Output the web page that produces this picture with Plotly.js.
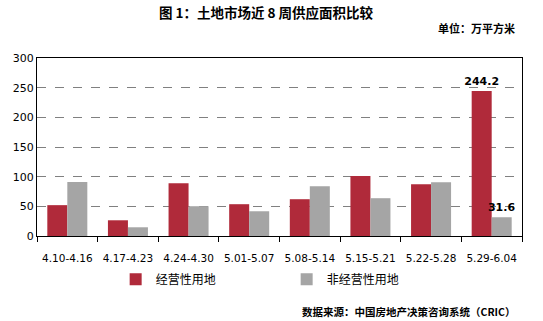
<!DOCTYPE html>
<html><head><meta charset="utf-8">
<script src="https://cdn.plot.ly/plotly-3.0.1.min.js"></script>
<style>html,body{margin:0;padding:0;background:#fff}#c{width:543px;height:321px}</style>
</head><body><div id="c"></div>
<script>
const categories = ["4.10-4.16","4.17-4.23","4.24-4.30","5.01-5.07","5.08-5.14","5.15-5.21","5.22-5.28","5.29-6.04"];
const commercial = [52, 26.5, 89, 53.6, 62, 101, 87.4, 244.2];
const nonCommercial = [91, 14.7, 50.2, 41.7, 84, 63.7, 90.8, 31.6];
const seriesNames = ["经营性用地", "非经营性用地"];
const yTicks = [0, 50, 100, 150, 200, 250, 300];
const labelLast = arr => arr.map((v, i) => i === arr.length - 1 ? v.toFixed(1) : "");

const cjk = '"Noto Sans CJK SC", "Noto Sans", sans-serif';
const num = '"DejaVu Sans", "Noto Sans", sans-serif';

const traces = [
  {type:'bar', x:categories, y:commercial, name:seriesNames[0], marker:{color:'#B02A3A'},
   text:labelLast(commercial), textposition:'outside', cliponaxis:false, constraintext:'none',
   textfont:{family:num, size:11, color:'#000', weight:'bold'}},
  {type:'bar', x:categories, y:nonCommercial, name:seriesNames[1], marker:{color:'#A5A5A5'},
   text:labelLast(nonCommercial), textposition:'outside', cliponaxis:false, constraintext:'none',
   textfont:{family:num, size:11, color:'#000', weight:'bold'}}
];

const layout = {
  width:543, height:321,
  margin:{l:37, r:21, t:58, b:85, autoexpand:false},
  paper_bgcolor:'#fff', plot_bgcolor:'#fff',
  barmode:'group', bargap:0.34, bargroupgap:0,
  showlegend:true,
  legend:{orientation:'h', xref:'container', yref:'container', x:0.213, xanchor:'left', y:0.13, yanchor:'middle',
    font:{family:cjk, size:12, color:'#000'}, entrywidth:126, entrywidthmode:'pixels',
    itemwidth:30, traceorder:'normal', bgcolor:'rgba(0,0,0,0)'},
  xaxis:{type:'category', showline:true, linecolor:'#000', linewidth:1, mirror:true,
    ticks:'outside', tickson:'boundaries', ticklen:5, tickcolor:'#000', ticklabelstandoff:12,
    tickfont:{family:num, size:10.5, color:'#000'}, showgrid:false},
  yaxis:{range:[0,300], tickvals:yTicks, showline:true, linecolor:'#000', linewidth:1, mirror:true,
    ticks:'', showgrid:true, gridcolor:'#808080', griddash:'dash', gridwidth:1,
    tickfont:{family:num, size:11, color:'#000'}, zeroline:false},
  title:{text:'<b>图 1：土地市场近 8 周供应面积比较</b>', x:0.49, xanchor:'center', y:0.96, yanchor:'middle',
    font:{family:cjk, size:13.5, color:'#000'}},
  annotations:[
    {text:'<b>单位：万平方米</b>', xref:'paper', yref:'paper', x:0.99, y:1, xanchor:'right', yanchor:'bottom',
     yshift:20, showarrow:false, font:{family:cjk, size:11, color:'#000'}},
    {text:'<b>数据来源：中国房地产决策咨询系统（CRIC）</b>', xref:'paper', yref:'paper', x:0.99, y:0, xanchor:'right', yanchor:'middle',
     yshift:-75, showarrow:false, font:{family:cjk, size:10.5, color:'#000'}}
  ]
};
Plotly.newPlot('c', traces, layout, {displayModeBar:false, staticPlot:true});
</script></body></html>
